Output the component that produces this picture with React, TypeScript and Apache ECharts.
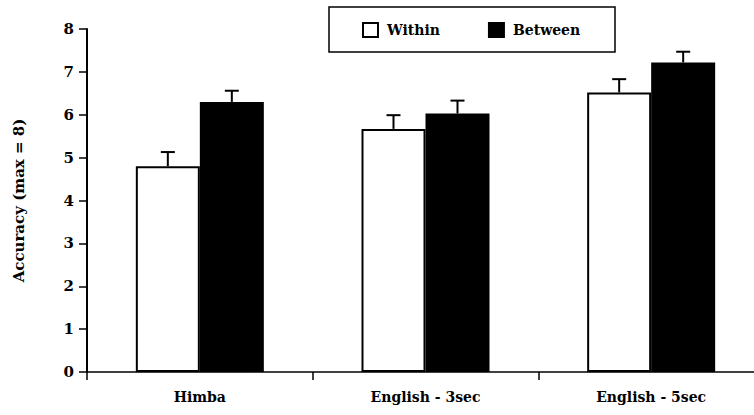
import React, { useEffect, useRef } from "react";
import * as echarts from "echarts";

const categories = ["Himba", "English - 3sec", "English - 5sec"];
const withinValues = [4.8, 5.67, 6.52];
const withinErrTop = [5.13, 5.99, 6.83];
const betweenValues = [6.3, 6.03, 7.22];
const betweenErrTop = [6.56, 6.33, 7.47];
const yTicks = [0, 1, 2, 3, 4, 5, 6, 7, 8];

const FONT = "DejaVu Serif";
const BAR_W = 64;

function errorSeries(name: string, tops: number[], offset: number) {
  return {
    type: "custom",
    name: name + "-err",
    silent: true,
    z: 5,
    data: tops.map((t, i) => [i, t, name === "Within" ? withinValues[i] : betweenValues[i]]),
    renderItem: (params: any, api: any) => {
      const idx = api.value(0);
      const top = api.coord([idx, api.value(1)]);
      const base = api.coord([idx, api.value(2)]);
      const x = top[0] + offset;
      const color = "#000";
      return {
        type: "group",
        children: [
          {
            type: "line",
            shape: { x1: x, y1: base[1], x2: x, y2: top[1] },
            style: { stroke: color, lineWidth: 2 },
          },
          {
            type: "line",
            shape: { x1: x - 7, y1: top[1], x2: x + 7, y2: top[1] },
            style: { stroke: color, lineWidth: 2 },
          },
        ],
      };
    },
  };
}

export default function App() {
  const ref = useRef<HTMLDivElement>(null);
  useEffect(() => {
    if (!ref.current) return;
    const chart = echarts.init(ref.current, undefined, { renderer: "svg" });
    chart.setOption({
      animation: false,
      backgroundColor: "#fff",
      textStyle: { fontFamily: FONT },
      grid: { left: 87, right: -10, top: 29, bottom: 43, outerBoundsMode: "none", containLabel: false },
      graphic: [
        {
          type: "rect",
          shape: { x: 329, y: 7, width: 286, height: 45 },
          style: { fill: "none", stroke: "#000", lineWidth: 1.5 },
          z: 10,
        },
      ],
      legend: {
        left: 362,
        top: 22,
        icon: "rect",
        itemWidth: 15,
        itemHeight: 14,
        itemGap: 48,
        padding: 0,
        data: ["Within", "Between"],
        textStyle: { fontFamily: FONT, fontWeight: "bold", fontSize: 14, color: "#000", padding: [0, 0, 0, 4] },
      },
      xAxis: {
        type: "category",
        data: categories,
        axisLine: { lineStyle: { color: "#000", width: 1.5 } },
        axisTick: { show: true, length: 8, lineStyle: { color: "#000", width: 1.5 } },
        axisLabel: { color: "#000", fontFamily: FONT, fontWeight: "bold", fontSize: 14, margin: 18 },
        splitLine: { show: false },
      },
      yAxis: {
        type: "value",
        min: yTicks[0],
        max: yTicks[yTicks.length - 1],
        interval: 1,
        name: "Accuracy (max = 8)",
        nameLocation: "middle",
        nameGap: 61,
        nameRotate: 90,
        nameTextStyle: { color: "#000", fontFamily: FONT, fontWeight: "bold", fontSize: 15 },
        axisLine: { show: true, lineStyle: { color: "#000", width: 2 } },
        axisTick: { show: true, length: 8, lineStyle: { color: "#000", width: 1.5 } },
        axisLabel: { color: "#000", fontFamily: FONT, fontWeight: "bold", fontSize: 15, margin: 13 },
        splitLine: { show: false },
      },
      series: [
        {
          type: "bar",
          name: "Within",
          data: withinValues,
          barWidth: BAR_W,
          barGap: "0%",
          itemStyle: { color: "#fff", borderColor: "#000", borderWidth: 2 },
        },
        {
          type: "bar",
          name: "Between",
          data: betweenValues,
          barWidth: BAR_W,
          barGap: "0%",
          itemStyle: { color: "#000", borderColor: "#000", borderWidth: 2 },
        },
        errorSeries("Within", withinErrTop, -BAR_W / 2),
        errorSeries("Between", betweenErrTop, BAR_W / 2),
      ],
    });
    return () => chart.dispose();
  }, []);
  return (
    <div
      ref={ref}
      style={{ position: "fixed", left: 0, top: 0, width: 754, height: 415 }}
    />
  );
}
